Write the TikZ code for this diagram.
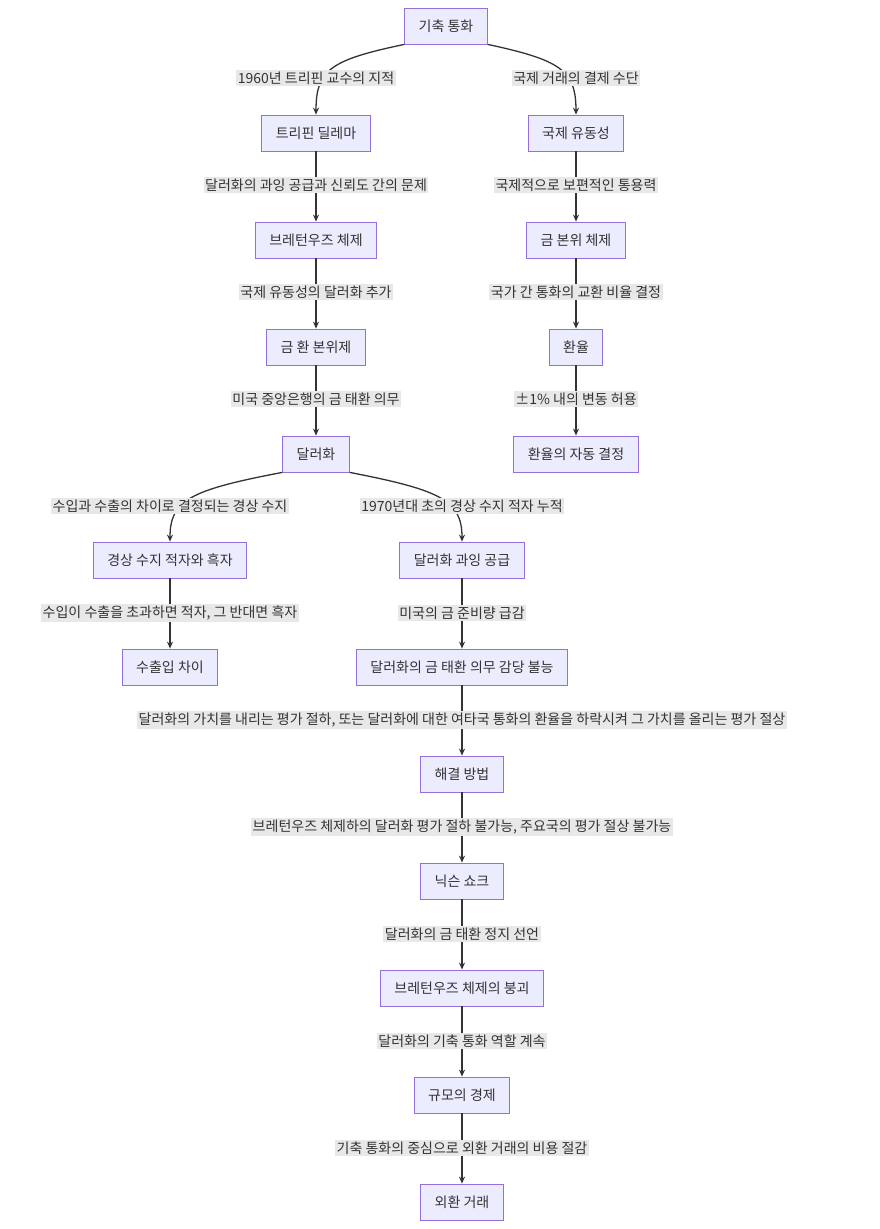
\documentclass[tikz,border=0pt]{standalone}
\usepackage{fontspec}
\setmainfont{Noto Sans CJK KR}
\usetikzlibrary{arrows.meta}
\definecolor{nfill}{HTML}{ECECFF}
\definecolor{nstroke}{HTML}{9370DB}
\definecolor{lbg}{HTML}{E8E8E8}
\definecolor{ink}{HTML}{333333}
\begin{document}
\begin{tikzpicture}[x=1pt,y=-1pt,
  box/.style={draw=nstroke,fill=nfill,line width=0.8pt,minimum height=36pt,inner xsep=14pt,text=ink,font=\fontsize{14}{16}\selectfont},
  lab/.style={fill=lbg,inner sep=1.5pt,text=ink,font=\fontsize{14}{16}\selectfont},
  ed/.style={draw=ink,line width=1.3pt,-{Stealth[length=7pt,width=6pt]}}]
\useasboundingbox (0,0) rectangle (880,1229);
\node[box] (a) at (446,26) {기축 통화};
\node[box] (b) at (316,133) {트리핀 딜레마};
\node[box] (c) at (576,133) {국제 유동성};
\node[box] (d) at (316,240) {브레턴우즈 체제};
\node[box] (e) at (576,240) {금 본위 체제};
\node[box] (f) at (316,347) {금 환 본위제};
\node[box] (g) at (576,347) {환율};
\node[box] (h) at (316,454) {달러화};
\node[box] (i) at (576,454) {환율의 자동 결정};
\node[box] (j) at (170,560) {경상 수지 적자와 흑자};
\node[box] (k) at (462,560) {달러화 과잉 공급};
\node[box] (l) at (170,667) {수출입 차이};
\node[box] (m) at (462,667) {달러화의 금 태환 의무 감당 불능};
\node[box] (n) at (462,774) {해결 방법};
\node[box] (o) at (462,881) {닉슨 쇼크};
\node[box] (p) at (462,988) {브레턴우즈 체제의 붕괴};
\node[box] (q) at (462,1095) {규모의 경제};
\node[box] (r) at (462,1202) {외환 거래};
% curved edges
\draw[ed] (a.south west)++(0,0) .. controls (330,60) and (316,70) .. (b.north);
\draw[ed] (a.south east) .. controls (560,60) and (576,70) .. (c.north);
\draw[ed] (h.south west) .. controls (190,490) and (170,500) .. (j.north);
\draw[ed] (h.south east) .. controls (440,490) and (462,500) .. (k.north);
% straight edges
\foreach \s/\t in {b/d,d/f,f/h,c/e,e/g,g/i,j/l,k/m,m/n,n/o,o/p,p/q,q/r}
  \draw[ed] (\s) -- (\t);
% labels
\node[lab] (l1) at (316,78) {1960년 트리핀 교수의 지적};
\node[lab] (l2) at (576,78) {국제 거래의 결제 수단};
\node[lab] (l3) at (316,185) {달러화의 과잉 공급과 신뢰도 간의 문제};
\node[lab] (l4) at (576,185) {국제적으로 보편적인 통용력};
\node[lab] (l5) at (316,292) {국제 유동성의 달러화 추가};
\node[lab] (l6) at (576,292) {국가 간 통화의 교환 비율 결정};
\node[lab] (l7) at (316,399) {미국 중앙은행의 금 태환 의무};
\node[lab] (l8) at (576,399) {±1\% 내의 변동 허용};
\node[lab] (l9) at (170,506) {수입과 수출의 차이로 결정되는 경상 수지};
\node[lab] (l10) at (462,506) {1970년대 초의 경상 수지 적자 누적};
\node[lab] (l11) at (170,613) {수입이 수출을 초과하면 적자, 그 반대면 흑자};
\node[lab] (l12) at (462,613) {미국의 금 준비량 급감};
\node[lab] (l13) at (462,720) {달러화의 가치를 내리는 평가 절하, 또는 달러화에 대한 여타국 통화의 환율을 하락시켜 그 가치를 올리는 평가 절상};
\node[lab] (l14) at (462,827) {브레턴우즈 체제하의 달러화 평가 절하 불가능, 주요국의 평가 절상 불가능};
\node[lab] (l15) at (462,934) {달러화의 금 태환 정지 선언};
\node[lab] (l16) at (462,1041) {달러화의 기축 통화 역할 계속};
\node[lab] (l17) at (462,1148) {기축 통화의 중심으로 외환 거래의 비용 절감};
\end{tikzpicture}
\end{document}
